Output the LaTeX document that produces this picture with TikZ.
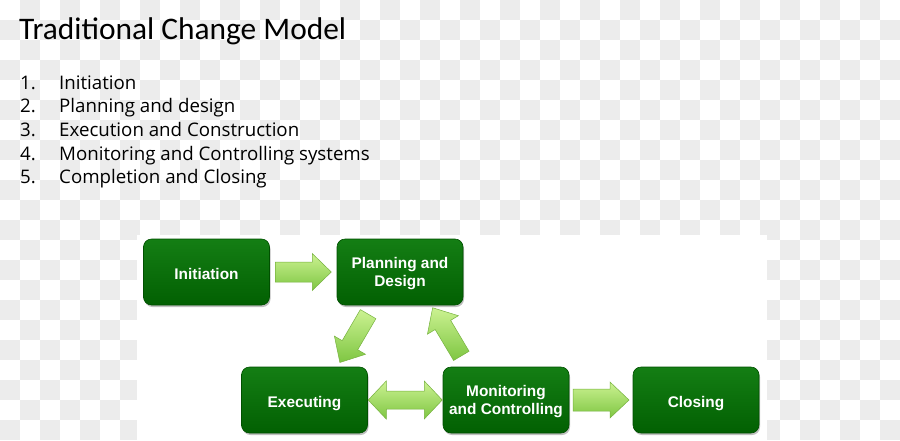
\documentclass[tikz,border=0pt]{standalone}
\usepackage{fontspec}
\setmainfont{Liberation Sans}
\newfontfamily\titlefont{Carlito}
\newfontfamily\listfont{Open Sans}
\usetikzlibrary{calc,shadows}
\definecolor{checkgray}{RGB}{236,236,236}
\definecolor{boxtop}{RGB}{20,126,20}
\definecolor{boxbot}{RGB}{2,96,2}
\definecolor{boxline}{RGB}{0,80,0}
\definecolor{arrtop}{RGB}{204,242,146}
\definecolor{arrbot}{RGB}{126,198,66}
\definecolor{arrline}{RGB}{118,178,62}
\tikzset{
  stepbox/.style={rounded corners=8pt, minimum width=126pt, minimum height=66pt,
    top color=boxtop, bottom color=boxbot, draw=boxline, line width=0.6pt,
    text=white, align=center, inner sep=0pt, text depth=0pt,
    font=\bfseries\fontsize{15.4}{18.5}\selectfont,
    drop shadow={shadow xshift=1pt, shadow yshift=-2pt, opacity=0.25, fill=black}},
  oneline/.style={text height=14pt},
  arrowfill/.style={top color=arrtop, bottom color=arrbot, draw=arrline, line width=0.5pt},
  listtext/.style={anchor=base west, inner sep=0pt, font=\listfont\fontsize{18.7}{22}\selectfont},
  pics/sarrow/.style n args={4}{code={
    \path[arrowfill] (-#1/2,-#2) -- (#1/2-#4,-#2) -- (#1/2-#4,-#3) -- (#1/2,0)
      -- (#1/2-#4,#3) -- (#1/2-#4,#2) -- (-#1/2,#2) -- cycle;}},
  pics/darrow/.style n args={4}{code={
    \path[arrowfill] (-#1/2,0) -- (-#1/2+#4,-#3) -- (-#1/2+#4,-#2) -- (#1/2-#4,-#2)
      -- (#1/2-#4,-#3) -- (#1/2,0) -- (#1/2-#4,#3) -- (#1/2-#4,#2)
      -- (-#1/2+#4,#2) -- (-#1/2+#4,#3) -- cycle;}}
}
\begin{document}
\begin{tikzpicture}[x=1pt,y=-1pt]
\useasboundingbox (0,0) rectangle (900,440);
\fill[white] (0,0) rectangle (900,440);
\foreach \i in {0,...,44}{
  \foreach \j in {0,...,21}{
    \pgfmathtruncatemacro{\cpar}{mod(\i+\j,2)}
    \ifnum\cpar=1 \fill[checkgray] (\i*20,\j*20) rectangle ++(20,20);\fi
  }
}
\fill[white] (137,235) rectangle (767,440);

\node[anchor=base west, inner sep=0pt, font=\titlefont\fontsize{31.4}{34}\selectfont] (title) at (19,39.5) {Traditional Change Model};

\node[listtext] (n1) at (20,89) {1.};
\node[listtext] (t1) at (59,89) {Initiation};
\node[listtext] (n2) at (20,112.7) {2.};
\node[listtext] (t2) at (59,112.7) {Planning and design};
\node[listtext] (n3) at (20,136.4) {3.};
\node[listtext] (t3) at (59,136.4) {Execution and Construction};
\node[listtext] (n4) at (20,160.1) {4.};
\node[listtext] (t4) at (59,160.1) {Monitoring and Controlling systems};
\node[listtext] (n5) at (20,183.8) {5.};
\node[listtext] (t5) at (59,183.8) {Completion and Closing};

\node[stepbox, oneline] (init) at (206.5,272) {Initiation};
\node[stepbox] (plan) at (400,272) {Planning and\\Design};
\node[stepbox, oneline] (exe) at (304.5,400) {Executing};
\node[stepbox] (mon) at (506,400) {Monitoring\\and Controlling};
\node[stepbox, oneline] (clo) at (696,400) {Closing};

\coordinate (a1) at ($(init.east)!0.5!(plan.west)$);
\coordinate (a2) at ($(plan.south)+(-46,33)$);
\coordinate (a3) at ($(plan.south)+(47,26.5)$);
\coordinate (a4) at ($(exe.east)!0.5!(mon.west)$);
\coordinate (a5) at ($(mon.east)!0.5!(clo.west)$);

\pic at (a1) {sarrow={56}{10}{18.5}{19}};
\pic[rotate=239.7] at (a2) {sarrow={56}{9}{18}{20}};
\pic[rotate=120.8] at (a3) {sarrow={56}{9}{18}{20}};
\pic at (a4) {darrow={74}{9}{19}{18}};
\pic at (a5) {sarrow={56}{11}{18}{19}};
\end{tikzpicture}
\end{document}
